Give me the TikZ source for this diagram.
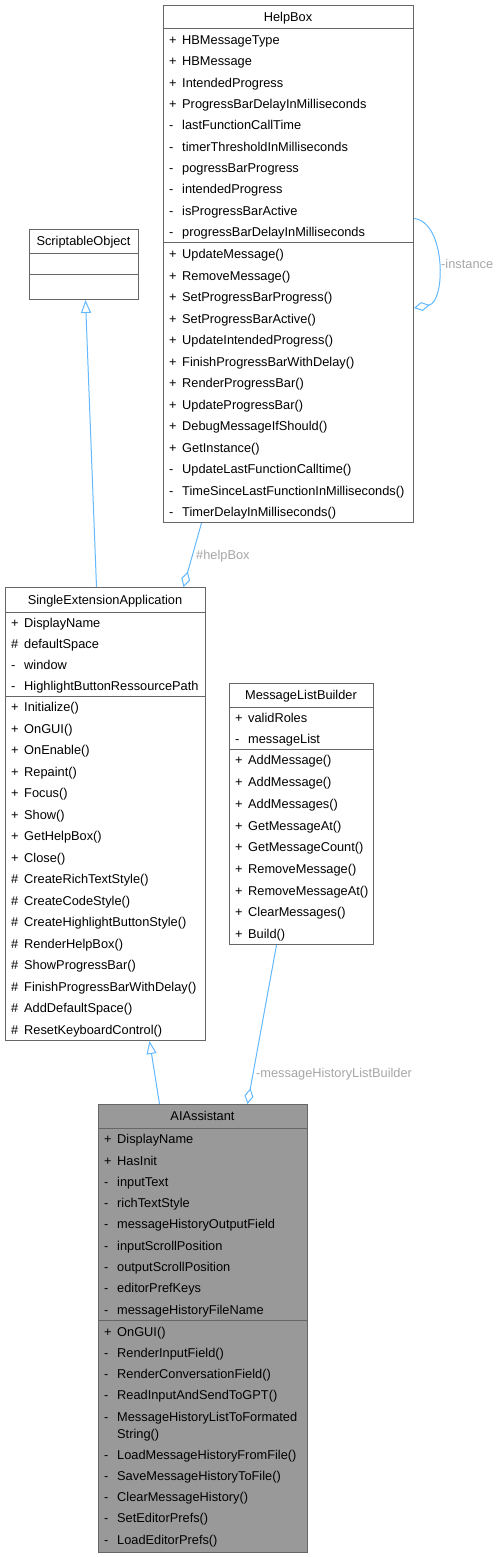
\documentclass[tikz,border=0pt]{standalone}
\usepackage{fontspec}
\setmainfont{Liberation Sans}
\usetikzlibrary{arrows.meta,calc}
\definecolor{umlLine}{HTML}{63B8FF}
\definecolor{umlBorder}{HTML}{666666}
\definecolor{umlLabel}{HTML}{A6A6A6}
\definecolor{umlFill}{HTML}{999999}
\tikzset{
  cls/.style={draw=umlBorder, line width=1pt, fill=white, anchor=north west, inner sep=0pt},
  clsf/.style={cls, fill=umlFill},
  ttl/.style={inner sep=0pt, text height=9.5pt, text depth=3pt, yshift=-1.5pt},
  mem/.style={anchor=west, inner sep=0pt, text height=9.5pt, text depth=3pt, yshift=-1.8pt},
  sepl/.style={draw=umlBorder, line width=1pt},
  inh/.style={draw=umlLine, line width=1pt, -{Triangle[open, fill=white, length=13pt, width=10pt]}},
  agg/.style={draw=umlLine, line width=1pt, -{Diamond[open, fill=white, length=16pt, width=9pt]}},
  elabel/.style={anchor=west, text=umlLabel, inner sep=0pt, text height=9.5pt, text depth=3pt, yshift=-1.5pt},
}

\begin{document}
\begin{tikzpicture}[x=1pt,y=-1pt,font=\fontsize{12.8}{15}\selectfont]
  \useasboundingbox (0,0) rectangle (499,1557);
  % HelpBox
  \node[cls, minimum width=250pt, minimum height=517pt] (hb) at (163,5) {};
  \node[ttl] (hbT) at (288,17) {HelpBox};
  \draw[sepl] (163,29) -- (413,29);
  \draw[sepl] (163,242.7) -- (413,242.7);
  \foreach \s/\t [count=\i] in {+/HBMessageType, +/HBMessage, +/IntendedProgress,
      +/ProgressBarDelayInMilliseconds, -/lastFunctionCallTime, -/timerThresholdInMilliseconds,
      -/pogressBarProgress, -/intendedProgress, -/isProgressBarActive, -/progressBarDelayInMilliseconds}
  {
    \node[mem] (hbS\i) at (169,{29+21.3*(\i-0.5)}) {\s};
    \node[mem] (hbA\i) at (182,{29+21.3*(\i-0.5)}) {\t};
  }
  \foreach \s/\t [count=\i] in {+/UpdateMessage(), +/RemoveMessage(), +/SetProgressBarProgress(),
      +/SetProgressBarActive(), +/UpdateIntendedProgress(), +/FinishProgressBarWithDelay(),
      +/RenderProgressBar(), +/UpdateProgressBar(), +/DebugMessageIfShould(), +/GetInstance(),
      -/UpdateLastFunctionCalltime(), -/TimeSinceLastFunctionInMilliseconds(), -/TimerDelayInMilliseconds()}
  {
    \node[mem] (hbP\i) at (169,{242.7+21.5*(\i-0.5)}) {\s};
    \node[mem] (hbM\i) at (182,{242.7+21.5*(\i-0.5)}) {\t};
  }

  % ScriptableObject
  \node[cls, minimum width=109pt, minimum height=70pt] (so) at (29,229) {};
  \node[ttl] (soT) at (83.5,241) {ScriptableObject};
  \draw[sepl] (29,253) -- (138,253);
  \draw[sepl] (29,274) -- (138,274);

  % SingleExtensionApplication
  \node[cls, minimum width=200pt, minimum height=453pt] (sea) at (5,587) {};
  \node[ttl] (seaT) at (105,599.5) {SingleExtensionApplication};
  \draw[sepl] (5,612) -- (205,612);
  \draw[sepl] (5,696) -- (205,696);
  \foreach \s/\t [count=\i] in {+/DisplayName, \#/defaultSpace, -/window, -/HighlightButtonRessourcePath}
  {
    \node[mem] (seaS\i) at (11,{612+21*(\i-0.5)}) {\s};
    \node[mem] (seaA\i) at (24,{612+21*(\i-0.5)}) {\t};
  }
  \foreach \s/\t [count=\i] in {+/Initialize(), +/OnGUI(), +/OnEnable(), +/Repaint(), +/Focus(),
      +/Show(), +/GetHelpBox(), +/Close(), \#/CreateRichTextStyle(), \#/CreateCodeStyle(),
      \#/CreateHighlightButtonStyle(), \#/RenderHelpBox(), \#/ShowProgressBar(),
      \#/FinishProgressBarWithDelay(), \#/AddDefaultSpace(), \#/ResetKeyboardControl()}
  {
    \node[mem] (seaP\i) at (11,{696+21.5*(\i-0.5)}) {\s};
    \node[mem] (seaM\i) at (24,{696+21.5*(\i-0.5)}) {\t};
  }

  % MessageListBuilder
  \node[cls, minimum width=144pt, minimum height=261pt] (mlb) at (229,683) {};
  \node[ttl] (mlbT) at (301,695) {MessageListBuilder};
  \draw[sepl] (229,707) -- (373,707);
  \draw[sepl] (229,749) -- (373,749);
  \foreach \s/\t [count=\i] in {+/validRoles, -/messageList}
  {
    \node[mem] (mlbS\i) at (235,{707+21*(\i-0.5)}) {\s};
    \node[mem] (mlbA\i) at (248,{707+21*(\i-0.5)}) {\t};
  }
  \foreach \s/\t [count=\i] in {+/AddMessage(), +/AddMessage(), +/AddMessages(), +/GetMessageAt(),
      +/GetMessageCount(), +/RemoveMessage(), +/RemoveMessageAt(), +/ClearMessages(), +/Build()}
  {
    \node[mem] (mlbP\i) at (235,{749+21.7*(\i-0.5)}) {\s};
    \node[mem] (mlbM\i) at (248,{749+21.7*(\i-0.5)}) {\t};
  }

  % AIAssistant
  \node[clsf, minimum width=209pt, minimum height=448pt] (aia) at (98,1104) {};
  \node[ttl] (aiaT) at (202.5,1116) {AIAssistant};
  \draw[sepl] (98,1128) -- (307,1128);
  \draw[sepl] (98,1320) -- (307,1320);
  \foreach \s/\t [count=\i] in {+/DisplayName, +/HasInit, -/inputText, -/richTextStyle,
      -/messageHistoryOutputField, -/inputScrollPosition, -/outputScrollPosition,
      -/editorPrefKeys, -/messageHistoryFileName}
  {
    \node[mem] (aiaS\i) at (104,{1128+21.3*(\i-0.5)}) {\s};
    \node[mem] (aiaA\i) at (117,{1128+21.3*(\i-0.5)}) {\t};
  }
  \foreach \s/\t/\y [count=\i] in {+/OnGUI()/1331, -/RenderInputField()/1352,
      -/RenderConversationField()/1373, -/ReadInputAndSendToGPT()/1394,
      -/MessageHistoryListToFormated/1416, -/LoadMessageHistoryFromFile()/1454,
      -/SaveMessageHistoryToFile()/1475, -/ClearMessageHistory()/1496,
      -/SetEditorPrefs()/1517, -/LoadEditorPrefs()/1539}
  {
    \node[mem] (aiaP\i) at (104,\y) {\s};
    \node[mem] (aiaM\i) at (117,\y) {\t};
  }
  \node[mem] (aiaM5b) at (117,1433) {String()};

  % relations
  \draw[inh] ([xshift=-9pt]sea.north) -- ([xshift=1.5pt]so.south);
  \draw[agg] ([xshift=-87pt]hb.south) -- ([xshift=78pt]sea.north);
  \draw[agg] ([yshift=45.5pt]hb.east) .. controls (446,222) and (446,302) .. ([yshift=-44pt]hb.east);
  \draw[inh] ([xshift=-43.5pt]aia.north) -- ([xshift=44pt]sea.south);
  \draw[agg] ([xshift=-25pt]mlb.south) -- ([xshift=44.5pt]aia.north);
  \node[elabel] (lblHelp) at (196,555) {\#helpBox};
  \node[elabel] (lblInst) at (441,264) {-instance};
  \node[elabel] (lblHist) at (256,1073) {-messageHistoryListBuilder};
\end{tikzpicture}
\end{document}
